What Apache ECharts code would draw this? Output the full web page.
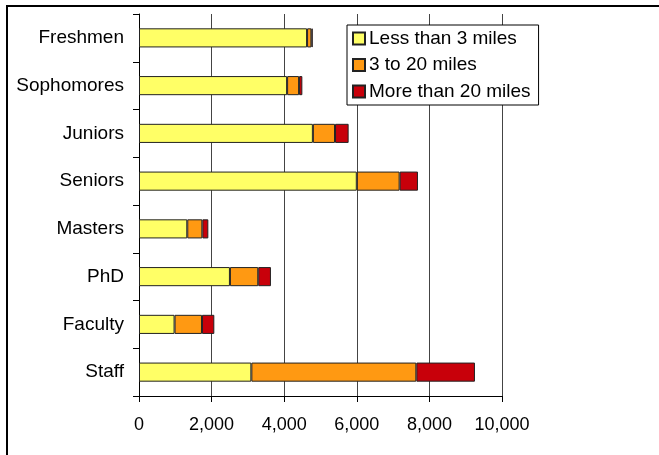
<!DOCTYPE html>
<html>
<head>
<meta charset="utf-8">
<script src="https://cdn.jsdelivr.net/npm/echarts@6/dist/echarts.min.js"></script>
<style>html,body{margin:0;padding:0;background:#fff;}#c{width:659px;height:455px;}</style>
</head>
<body>
<div id="c"></div>
<script>
const categories = ['Freshmen','Sophomores','Juniors','Seniors','Masters','PhD','Faculty','Staff'];
const lessThan3 = [4630, 4080, 4790, 6000, 1330, 2505, 980, 3095];
const from3to20 = [120, 330, 610, 1180, 415, 780, 755, 4545];
const moreThan20 = [35, 90, 375, 505, 165, 350, 340, 1615];
const seriesNames = ['Less than 3 miles', '3 to 20 miles', 'More than 20 miles'];
const xTicks = [0, 2000, 4000, 6000, 8000, 10000];

const font = "'Liberation Sans', Arial, sans-serif";
const chart = echarts.init(document.getElementById('c'), null, {renderer: 'canvas'});
const mk = (name, data, color) => ({
  name, type: 'bar', stack: 'total', data, barWidth: '40%',
  itemStyle: {color, borderColor: '#222', borderWidth: 1},
  emphasis: {disabled: true}
});
chart.setOption({
  animation: false,
  backgroundColor: '#fff',
  textStyle: {fontFamily: font},
  graphic: [{type: 'rect', shape: {x: 7, y: 6, width: 700, height: 500}, style: {fill: 'none', stroke: '#000', lineWidth: 2}, z: 100}],
  grid: {left: 139, right: 157, top: 14, bottom: 59, containLabel: false},
  legend: {
    orient: 'vertical', left: 347, top: 25,
    data: seriesNames,
    itemWidth: 12, itemHeight: 12, itemGap: 7.5,
    padding: [4, 8, 4, 5],
    borderColor: '#000', borderWidth: 1, backgroundColor: '#fff',
    textStyle: {fontSize: 19, color: '#000', fontFamily: font, padding: [0, 0, 0, -1]},
    icon: 'rect'
  },
  xAxis: {
    type: 'value', min: xTicks[0], max: xTicks[xTicks.length - 1], interval: 2000,
    axisLine: {show: true, lineStyle: {color: '#000', width: 1}},
    axisTick: {show: true, length: 6, lineStyle: {color: '#000'}},
    axisLabel: {fontSize: 18, color: '#000', margin: 20, fontFamily: font,
      formatter: v => v.toLocaleString('en-US')},
    splitLine: {show: true, lineStyle: {color: '#444', width: 1}}
  },
  yAxis: {
    type: 'category', data: categories, inverse: true,
    axisLine: {show: true, lineStyle: {color: '#000', width: 1}},
    axisTick: {show: true, length: 6, alignWithLabel: false, lineStyle: {color: '#000'}},
    axisLabel: {fontSize: 19, color: '#000', margin: 15, fontFamily: font},
    splitLine: {show: false}
  },
  series: [
    mk(seriesNames[0], lessThan3, '#FFFF66'),
    mk(seriesNames[1], from3to20, '#FF9912'),
    mk(seriesNames[2], moreThan20, '#C8000A')
  ]
});
</script>
</body>
</html>
